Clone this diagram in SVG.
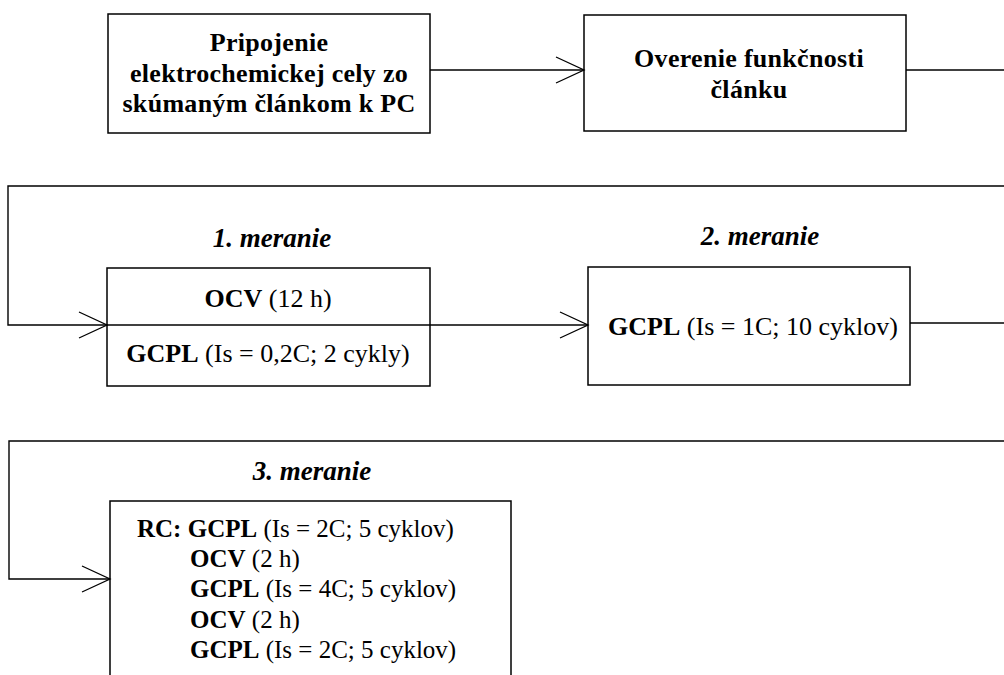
<svg xmlns="http://www.w3.org/2000/svg" width="1004" height="675" viewBox="0 0 1004 675">
<style>
  .box { fill: #fff; stroke: #000; stroke-width: 1.5; }
  .conn { fill: none; stroke: #000; stroke-width: 1.4; }
  text { font-family: "Liberation Serif", "Times New Roman", serif; font-size: 25px; fill: #000; }
  .b { font-weight: bold; }
  .t { font-weight: bold; font-size: 26px; letter-spacing: 0.3px; }
  .h { font-weight: bold; font-style: italic; font-size: 27px; }
  .m { font-size: 26px; }
  .c { text-anchor: middle; }
</style>
<defs>
  <marker id="arr" markerUnits="userSpaceOnUse" markerWidth="32" markerHeight="32" refX="30" refY="15" orient="auto" viewBox="0 0 32 32">
    <path d="M2,2 L30,15 L2,28" fill="none" stroke="#000" stroke-width="1.3"/>
  </marker>
</defs>

<g id="node-pripojenie">
  <rect class="box" x="108" y="14" width="322" height="119"/>
  <text class="t c" x="269" y="51">Pripojenie</text>
  <text class="t c" x="269" y="82">elektrochemickej cely zo</text>
  <text class="t c" x="269" y="112">skúmaným článkom k PC</text>
</g>

<g id="node-overenie">
  <rect class="box" x="584" y="15" width="322" height="116"/>
  <text class="t c" x="749" y="67">Overenie funkčnosti</text>
  <text class="t c" x="749" y="98">článku</text>
</g>

<g id="node-meranie1">
  <text class="h c" x="272" y="247">1. meranie</text>
  <rect class="box" x="107" y="268" width="323" height="118"/>
  <line x1="107" y1="325" x2="430" y2="325" stroke="#000" stroke-width="1.4"/>
  <text class="m c" x="268" y="307"><tspan class="b">OCV</tspan> (12 h)</text>
  <text class="m c" x="268" y="362"><tspan class="b">GCPL</tspan> (Is = 0,2C; 2 cykly)</text>
</g>

<g id="node-meranie2">
  <text class="h c" x="760" y="245">2. meranie</text>
  <rect class="box" x="588" y="267" width="322" height="118"/>
  <text class="m c" x="753" y="335"><tspan class="b">GCPL</tspan> (Is = 1C; 10 cyklov)</text>
</g>

<g id="node-meranie3">
  <text class="h c" x="312" y="480">3. meranie</text>
  <rect class="box" x="110" y="501" width="401" height="200"/>
  <text x="137" y="537"><tspan class="b">RC: GCPL</tspan> (Is = 2C; 5 cyklov)</text>
  <text x="190" y="567"><tspan class="b">OCV</tspan> (2 h)</text>
  <text x="190" y="597"><tspan class="b">GCPL</tspan> (Is = 4C; 5 cyklov)</text>
  <text x="190" y="628"><tspan class="b">OCV</tspan> (2 h)</text>
  <text x="190" y="658"><tspan class="b">GCPL</tspan> (Is = 2C; 5 cyklov)</text>
</g>

<g id="connectors">
  <path class="conn" d="M430,70 H584" marker-end="url(#arr)"/>
  <path class="conn" d="M906,70 H1004"/>
  <path class="conn" d="M1004,186 H8 V325 H107" marker-end="url(#arr)"/>
  <path class="conn" d="M430,325 H588" marker-end="url(#arr)"/>
  <path class="conn" d="M910,323 H1004"/>
  <path class="conn" d="M1004,441 H9 V579 H110" marker-end="url(#arr)"/>
</g>
</svg>
